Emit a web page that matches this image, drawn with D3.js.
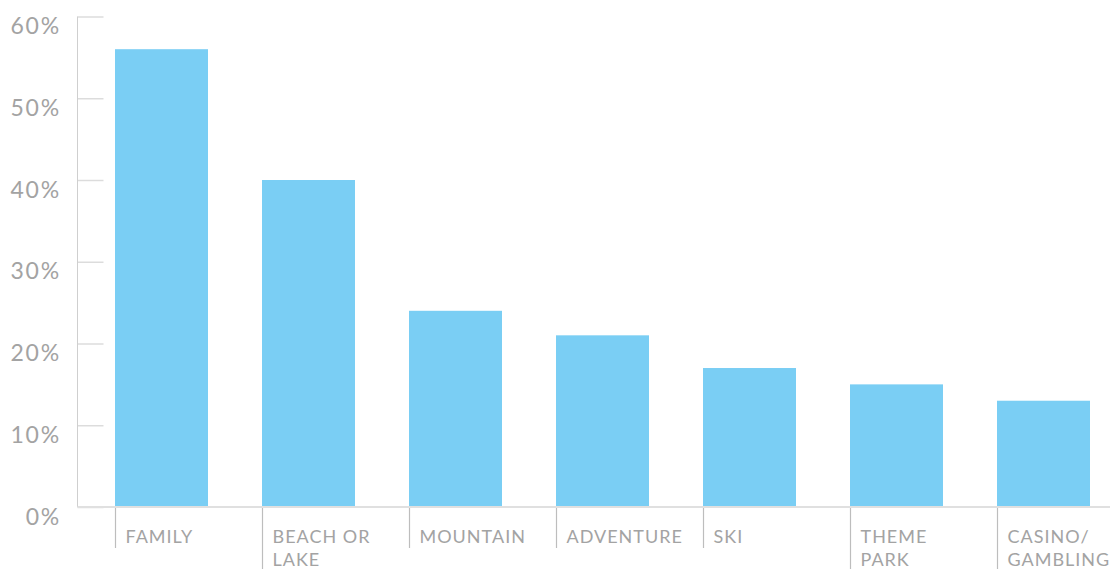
<!DOCTYPE html>
<html>
<head>
<meta charset="utf-8">
<script src="https://cdn.jsdelivr.net/npm/d3@7"></script>
<style>
  html, body { margin: 0; padding: 0; background: #fff; }
  svg { display: block; }
  text { font-family: Lato, "Open Sans", sans-serif; font-weight: 400; fill: #a3a3a3; }
</style>
</head>
<body>
<svg id="chart" width="1110" height="569"></svg>
<script>
// Vacation types and share of respondents (%)
const categories = ["FAMILY", "BEACH OR LAKE", "MOUNTAIN", "ADVENTURE", "SKI", "THEME PARK", "CASINO/ GAMBLING"];
const labelLines = [["FAMILY"], ["BEACH OR", "LAKE"], ["MOUNTAIN"], ["ADVENTURE"], ["SKI"], ["THEME", "PARK"], ["CASINO/", "GAMBLING"]];
const values = [56, 40, 24, 21, 17, 15, 13];
const yTicks = [0, 10, 20, 30, 40, 50, 60];

const svg = d3.select("#chart");
const W = 1110, H = 569;
const axisX = 77.5, baseY = 507, topY = 16.5;
const barStart = 115, step = 147, barW = 93;

const pad = 1 - barW / step;
const x = d3.scaleBand()
  .domain(categories)
  .range([barStart, barStart + step * (categories.length - pad)])
  .paddingInner(pad)
  .paddingOuter(0);

const y = d3.scaleLinear().domain([0, 60]).range([baseY, topY]);

// bars
svg.append("g").selectAll("rect")
  .data(values)
  .join("rect")
  .attr("x", (d, i) => x(categories[i]))
  .attr("y", d => y(d))
  .attr("width", x.bandwidth())
  .attr("height", d => y(0) - y(d))
  .attr("fill", "#7acef4");

// y axis
const yAxis = svg.append("g").attr("transform", `translate(${axisX},0)`)
  .call(d3.axisRight(y).tickValues(yTicks).tickSize(26).tickFormat(""));
yAxis.select(".domain").remove();
yAxis.selectAll(".tick line").attr("stroke", "#dcdcdc").attr("stroke-width", 1.5);
svg.append("line")
  .attr("x1", axisX).attr("x2", axisX)
  .attr("y1", y(60)).attr("y2", y(0))
  .attr("stroke", "#cfcfcf").attr("stroke-width", 1);

svg.append("g").selectAll("text")
  .data(yTicks)
  .join("text")
  .attr("x", 61)
  .attr("y", d => y(d) + 17.5)
  .attr("text-anchor", "end")
  .attr("font-size", 23)
  .attr("letter-spacing", 1.8)
  .text(d => d + "%");

// x baseline
svg.append("line")
  .attr("x1", axisX).attr("x2", W)
  .attr("y1", baseY).attr("y2", baseY)
  .attr("stroke", "#e0e0e0").attr("stroke-width", 2);

// category separators and labels
const xg = svg.append("g").selectAll("g")
  .data(categories)
  .join("g")
  .attr("transform", d => `translate(${Math.round(x(d)) + 0.5},0)`);

xg.append("line")
  .attr("y1", baseY + 1)
  .attr("y2", (d, i) => labelLines[i].length > 1 ? H : 548)
  .attr("stroke", "#bdbdbd")
  .attr("stroke-width", 1.2);

xg.append("text")
  .attr("font-size", 18)
  .attr("letter-spacing", 1.0)
  .selectAll("tspan")
  .data((d, i) => labelLines[i])
  .join("tspan")
  .attr("x", 10)
  .attr("y", (d, j) => 542.5 + j * 23.5)
  .text(d => d);
</script>
</body>
</html>
